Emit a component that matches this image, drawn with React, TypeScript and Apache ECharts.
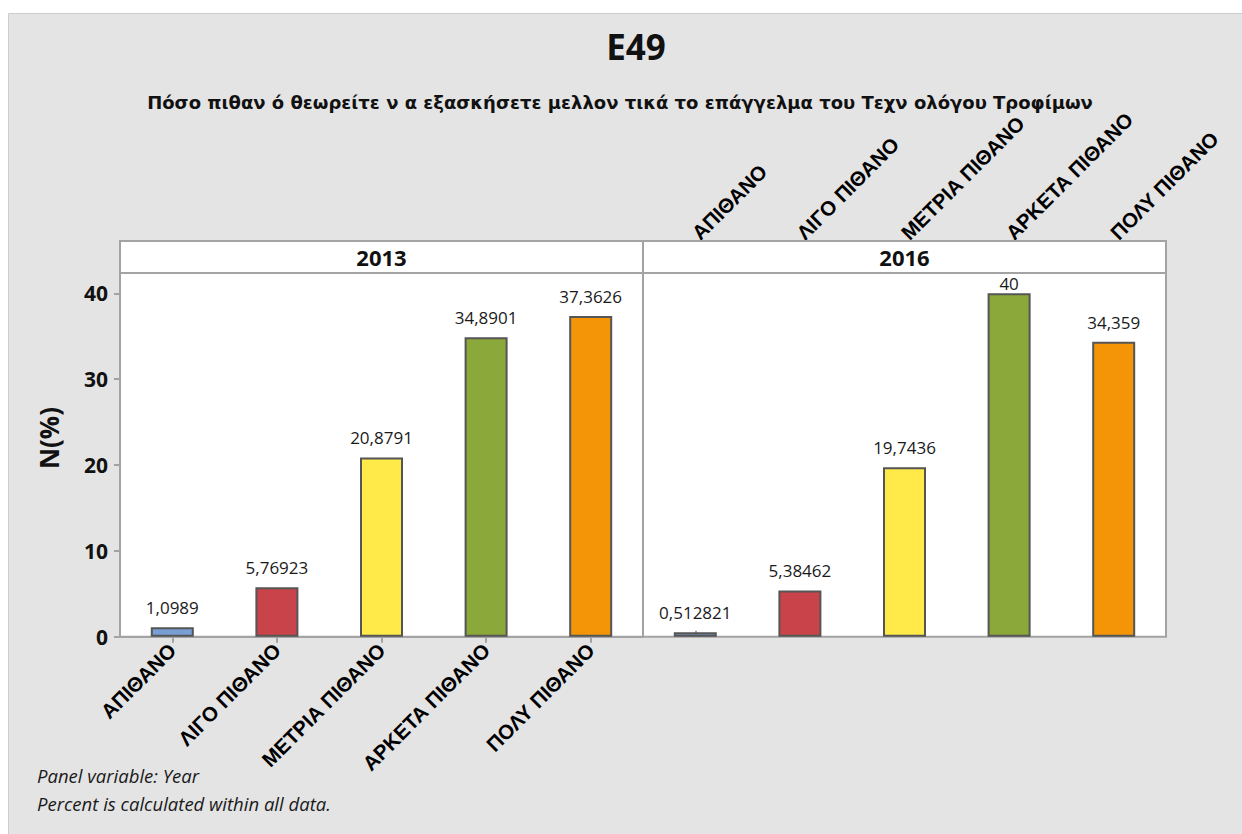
import React, { useEffect, useRef } from "react";
import * as echarts from "echarts";

const categories = ["ΑΠΙΘΑΝΟ", "ΛΙΓΟ ΠΙΘΑΝΟ", "ΜΕΤΡΙΑ ΠΙΘΑΝΟ", "ΑΡΚΕΤΑ ΠΙΘΑΝΟ", "ΠΟΛΥ ΠΙΘΑΝΟ"];
const panels = ["2013", "2016"];
const values2013 = [1.0989, 5.76923, 20.8791, 34.8901, 37.3626];
const values2016 = [0.512821, 5.38462, 19.7436, 40, 34.359];
const yTicks = [0, 10, 20, 30, 40];
const barColors = ["#779fd6", "#c9444a", "#ffea4a", "#8ba83a", "#f49508"];

const title = "E49";
const subtitle = "Πόσο πιθαν ό θεωρείτε ν α εξασκήσετε μελλον τικά το επάγγελμα του Τεχν ολόγου Τροφίμων";
const yName = "N(%)";
const footnotes = ["Panel variable: Year", "Percent is calculated within all data."];

const UI_FONT = "'Open Sans', 'Noto Sans', sans-serif";
const LABEL_FONT = "'Liberation Sans', Arial, sans-serif";

const PANEL_LEFT = [120, 643];
const PANEL_W = 523;
const PLOT_TOP = 273;
const PLOT_H = 363.7;
const STRIP_TOP = 241;
const Y_MAX = 42.36;

function fmt(v: number): string {
  return String(v).replace(".", ",");
}

export default function App() {
  const ref = useRef<HTMLDivElement>(null);

  useEffect(() => {
    if (!ref.current) return;
    const chart = echarts.init(ref.current, undefined, { renderer: "svg" });

    const mkSeries = (vals: number[], idx: number) => ({
      type: "bar",
      xAxisIndex: idx,
      yAxisIndex: idx,
      barWidth: 43,
      data: vals.map((v, i) => ({
        value: v,
        itemStyle: { color: barColors[i], borderColor: "#555555", borderWidth: 2 },
        label: v >= 40 ? { distance: 1 } : undefined,
      })),
      label: {
        show: true,
        position: "top",
        distance: 11,
        formatter: (p: any) => fmt(p.value),
        fontFamily: UI_FONT,
        fontSize: 17,
        color: "#1a1a1a",
      },
      z: 3,
    });

    const grids = PANEL_LEFT.map((l) => ({
      left: l,
      top: PLOT_TOP,
      width: PANEL_W,
      height: PLOT_H,
      show: true,
      backgroundColor: "#ffffff",
      borderColor: "#a3a3a3",
      borderWidth: 2,
      containLabel: false,
    }));

    const graphics: any[] = [
      {
        type: "rect",
        shape: { x: 8.5, y: 13.5, width: 1260, height: 840 },
        style: { fill: "#e4e4e4", stroke: "#cdcdcd", lineWidth: 1 },
        z: -10,
        silent: true,
      },
      {
        type: "text",
        x: 636,
        y: 46,
        style: {
          text: title,
          fontFamily: UI_FONT,
          fontWeight: "bold",
          fontSize: 35,
          fill: "#111",
          align: "center",
          verticalAlign: "middle",
        },
      },
      {
        type: "text",
        x: 620,
        y: 102,
        style: {
          text: subtitle,
          fontFamily: "'DejaVu Sans', sans-serif",
          fontWeight: "bold",
          fontSize: 18,
          fill: "#111",
          align: "center",
          verticalAlign: "middle",
        },
      },
      {
        type: "text",
        x: 49,
        y: 438,
        rotation: Math.PI / 2,
        style: {
          text: yName,
          fontFamily: UI_FONT,
          fontWeight: "bold",
          fontSize: 26,
          fill: "#111",
          align: "center",
          verticalAlign: "middle",
        },
      },
    ];

    panels.forEach((p, i) => {
      graphics.push({
        type: "rect",
        shape: { x: PANEL_LEFT[i], y: STRIP_TOP, width: PANEL_W, height: PLOT_TOP - STRIP_TOP },
        style: { fill: "#ffffff", stroke: "#a3a3a3", lineWidth: 2 },
        z: 1,
      });
      graphics.push({
        type: "text",
        x: PANEL_LEFT[i] + PANEL_W / 2,
        y: (STRIP_TOP + PLOT_TOP) / 2,
        z: 2,
        style: {
          text: p,
          fontFamily: UI_FONT,
          fontWeight: "bold",
          fontSize: 22,
          fill: "#111",
          align: "center",
          verticalAlign: "middle",
        },
      });
    });

    footnotes.forEach((t, i) => {
      graphics.push({
        type: "text",
        x: 37,
        y: 775 + i * 28,
        style: {
          text: t,
          fontFamily: UI_FONT,
          fontStyle: "italic",
          fontSize: 18.5,
          fill: "#1a1a1a",
          align: "left",
          verticalAlign: "middle",
        },
      });
    });

    const option: any = {
      animation: false,
      backgroundColor: "#ffffff",
      grid: grids,
      xAxis: [
        {
          type: "category",
          gridIndex: 0,
          data: categories,
          position: "bottom",
          axisLine: { show: true, lineStyle: { color: "#a3a3a3", width: 2 } },
          axisTick: { show: true, alignWithLabel: true, length: 6, lineStyle: { color: "#a3a3a3", width: 2 } },
          axisLabel: {
            rotate: 45,
            margin: 10,
            interval: 0,
            fontFamily: LABEL_FONT,
            fontWeight: "bold",
            fontSize: 20.5,
            color: "#000",
          },
        },
        {
          type: "category",
          gridIndex: 1,
          data: categories,
          position: "top",
          offset: PLOT_TOP - STRIP_TOP,
          axisLine: { show: false },
          axisTick: { show: true, alignWithLabel: true, length: 6, lineStyle: { color: "#a3a3a3", width: 2 } },
          axisLabel: {
            rotate: 45,
            margin: 5,
            interval: 0,
            fontFamily: LABEL_FONT,
            fontWeight: "bold",
            fontSize: 20.5,
            color: "#000",
          },
        },
      ],
      yAxis: [
        {
          type: "value",
          gridIndex: 0,
          min: 0,
          max: Y_MAX,
          interval: 10,
          splitLine: { show: false },
          axisLine: { show: true, lineStyle: { color: "#a3a3a3", width: 2 } },
          axisTick: { show: true, length: 6, customValues: yTicks, lineStyle: { color: "#a3a3a3", width: 2 } },
          axisLabel: {
            customValues: yTicks,
            margin: 12,
            formatter: (v: number) => (yTicks.indexOf(v) >= 0 ? String(v) : ""),
            fontFamily: UI_FONT,
            fontWeight: "bold",
            fontSize: 21,
            color: "#111",
          },
        },
        {
          type: "value",
          gridIndex: 1,
          min: 0,
          max: Y_MAX,
          interval: 10,
          show: false,
          splitLine: { show: false },
        },
      ],
      series: [mkSeries(values2013, 0), mkSeries(values2016, 1)],
      graphic: graphics,
    };

    chart.setOption(option);
    return () => chart.dispose();
  }, []);

  return (
    <div
      ref={ref}
      style={{ position: "absolute", left: 0, top: 0, width: 1242, height: 834 }}
    />
  );
}
